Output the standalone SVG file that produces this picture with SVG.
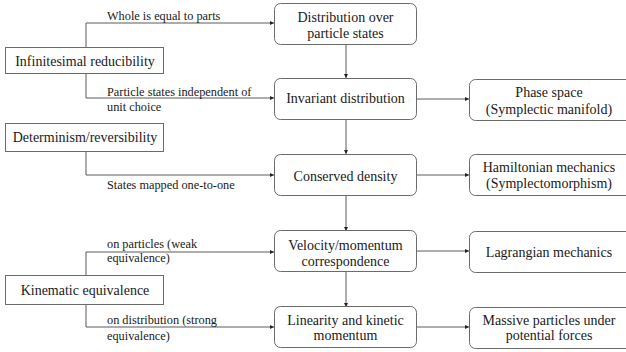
<svg xmlns="http://www.w3.org/2000/svg" width="626" height="352" viewBox="0 0 626 352">
<defs>
<style>
.box{fill:#fff;stroke:#6b6b6b;stroke-width:1}
.c{fill:none;stroke:#5a5a5a;stroke-width:1;marker-end:url(#ah)}
</style>
<marker id="ah" viewBox="0 0 6 6" refX="6" refY="3" markerWidth="4.5" markerHeight="4.5" markerUnits="userSpaceOnUse" orient="auto">
<path d="M0,0 L6,3 L0,6 z" fill="#222"/>
</marker>
</defs>
<rect width="626" height="352" fill="#fff"/>
<g id="connectors">
<path class="c" d="M86,47.5 V23 H274"/>
<path class="c" d="M86,73.5 V98 H274"/>
<path class="c" d="M86,151.5 V175 H274"/>
<path class="c" d="M86,275.5 V252 H274"/>
<path class="c" d="M86,304.5 V327 H274"/>
<path class="c" d="M346,44 V78"/>
<path class="c" d="M346,119 V154"/>
<path class="c" d="M346,196 V231"/>
<path class="c" d="M346,272 V307"/>
<path class="c" d="M417,99 H469"/>
<path class="c" d="M417,175 H469"/>
<path class="c" d="M417,251 H469"/>
<path class="c" d="M417,327 H469"/>
<g font-family="Liberation Serif, serif" font-size="12.3" fill="#1a1a1a">
<text x="107" y="20">Whole is equal to parts</text>
<text x="107" y="95.5">Particle states independent of</text>
<text x="107" y="111">unit choice</text>
<text x="107" y="189">States mapped one-to-one</text>
<text x="107" y="248">on particles (weak</text>
<text x="107" y="262">equivalence)</text>
<text x="107" y="324">on distribution (strong</text>
<text x="107" y="340">equivalence)</text>
</g>
</g>
<g font-family="Liberation Serif, serif" font-size="14" fill="#1a1a1a" text-anchor="middle">
<g id="infinitesimal">
<rect class="box" x="5.5" y="47.5" width="158" height="26"/>
<text x="85" y="65.5">Infinitesimal reducibility</text>
</g>
<g id="determinism">
<rect class="box" x="5.5" y="123.5" width="158" height="28"/>
<text x="85" y="142">Determinism/reversibility</text>
</g>
<g id="kinematic">
<rect class="box" x="5.5" y="275.5" width="158" height="29"/>
<text x="85" y="295">Kinematic equivalence</text>
</g>
<g id="distribution">
<rect class="box" x="274.5" y="3.5" width="142" height="41" rx="6"/>
<text x="345.5" y="21.5">Distribution over</text>
<text x="345.5" y="37.5">particle states</text>
</g>
<g id="invariant">
<rect class="box" x="274.5" y="78.5" width="142" height="41" rx="6"/>
<text x="345.5" y="103">Invariant distribution</text>
</g>
<g id="conserved">
<rect class="box" x="274.5" y="154.5" width="142" height="41" rx="6"/>
<text x="345.5" y="181">Conserved density</text>
</g>
<g id="velocity">
<rect class="box" x="274.5" y="230.5" width="142" height="41" rx="6"/>
<text x="345.5" y="249.5">Velocity/momentum</text>
<text x="345.5" y="265.5">correspondence</text>
</g>
<g id="linearity">
<rect class="box" x="274.5" y="306.5" width="142" height="41" rx="6"/>
<text x="345.5" y="325">Linearity and kinetic</text>
<text x="345.5" y="340">momentum</text>
</g>
<g id="phase">
<rect class="box" x="469.5" y="79.5" width="170" height="41" rx="6"/>
<text x="549" y="97">Phase space</text>
<text x="549" y="114">(Symplectic manifold)</text>
</g>
<g id="hamiltonian">
<rect class="box" x="469.5" y="154.5" width="170" height="41" rx="6"/>
<text x="549" y="171.5">Hamiltonian mechanics</text>
<text x="549" y="188">(Symplectomorphism)</text>
</g>
<g id="lagrangian">
<rect class="box" x="469.5" y="231.5" width="170" height="41" rx="6"/>
<text x="549" y="256.5">Lagrangian mechanics</text>
</g>
<g id="massive">
<rect class="box" x="469.5" y="307.5" width="170" height="41" rx="6"/>
<text x="549" y="325">Massive particles under</text>
<text x="549" y="340">potential forces</text>
</g>
</g>
</svg>
